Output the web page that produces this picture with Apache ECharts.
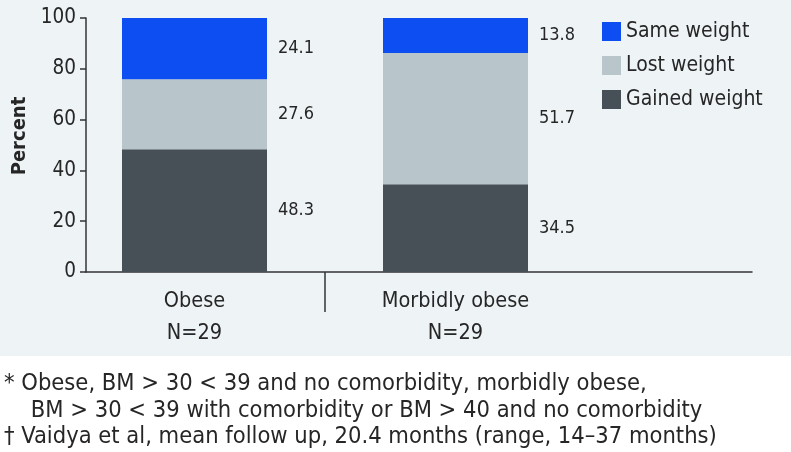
<!DOCTYPE html>
<html>
<head>
<meta charset="utf-8">
<script src="https://cdn.jsdelivr.net/npm/echarts@6/dist/echarts.min.js"></script>
<style>html,body{margin:0;padding:0;background:#fff}#c{width:791px;height:452px}</style>
</head>
<body>
<div id="c"></div>
<script>
const categories = ['Obese\nN=29', 'Morbidly obese\nN=29'];
const gained = [48.3, 34.5];
const lost = [27.6, 51.7];
const same = [24.1, 13.8];
const seriesNames = ['Gained weight', 'Lost weight', 'Same weight'];
const yTicks = [0, 20, 40, 60, 80, 100];
const footnotes = [
  '* Obese, BM > 30 < 39 and no comorbidity, morbidly obese,',
  '    BM > 30 < 39 with comorbidity or BM > 40 and no comorbidity',
  '† Vaidya et al, mean follow up, 20.4 months (range, 14–37 months)'
];

const FONT = "'DejaVu Sans Condensed', 'Liberation Sans Narrow', 'DejaVu Sans', sans-serif";
const TXT = '#262626';
const colors = ['#465056', '#b8c5ca', '#0c4ef2'];

const chart = echarts.init(document.getElementById('c'));
const lbl = {show: true, position: 'right', distance: 11, color: TXT, fontSize: 18, fontFamily: FONT,
  formatter: p => p.value.toFixed(1)};

const option = {
  backgroundColor: '#ffffff',
  animation: false,
  textStyle: {fontFamily: FONT},
  grid: [
    {left: 64, right: 205, top: 18, bottom: 180},
    {left: 86, right: 39, top: 18, bottom: 180}
  ],
  legend: {
    orient: 'vertical', left: 597, top: 16, itemWidth: 19, itemHeight: 19, itemGap: 13,
    icon: 'rect',
    data: ['Same weight', 'Lost weight', 'Gained weight'],
    textStyle: {fontSize: 21, lineHeight: 19, color: TXT, fontFamily: FONT}
  },
  xAxis: [
    {gridIndex: 0, type: 'category', data: categories,
      axisLine: {show: false}, axisTick: {show: false},
      axisLabel: {fontSize: 21.5, color: TXT, lineHeight: 32, margin: 13, fontFamily: FONT}},
    {gridIndex: 1, type: 'value', min: 0, max: 1,
      axisLine: {show: true, onZero: false, lineStyle: {color: '#333', width: 1.5}},
      axisTick: {show: false}, axisLabel: {show: false}, splitLine: {show: false}}
  ],
  yAxis: [
    {gridIndex: 0, type: 'value', min: 0, max: 100, show: false},
    {gridIndex: 1, type: 'value', min: 0, max: 100, interval: 20,
      name: 'Percent', nameLocation: 'middle', nameGap: 54,
      nameTextStyle: {fontSize: 20, fontWeight: 'bold', color: TXT, fontFamily: FONT, padding: [0, 0, 0, 18]},
      axisLine: {show: true, lineStyle: {color: '#333', width: 1.5}},
      axisTick: {show: true, length: 6, lineStyle: {color: '#333', width: 1.5}},
      axisLabel: {fontSize: 20.5, color: TXT, margin: 10, fontFamily: FONT,
        customValues: yTicks},
      splitLine: {show: false}}
  ],
  series: [
    {name: seriesNames[0], type: 'bar', stack: 'a', data: gained, barWidth: 145, itemStyle: {color: colors[0]}, label: lbl},
    {name: seriesNames[1], type: 'bar', stack: 'a', data: lost, barWidth: 145, itemStyle: {color: colors[1]}, label: lbl},
    {name: seriesNames[2], type: 'bar', stack: 'a', data: same, barWidth: 145, itemStyle: {color: colors[2]}, label: lbl}
  ],
  graphic: []
};
chart.setOption(option);

// background panel, divider and footnotes
const p0 = chart.convertToPixel({xAxisIndex: 0, yAxisIndex: 0}, [0, 0]);
const p1 = chart.convertToPixel({xAxisIndex: 0, yAxisIndex: 0}, [1, 0]);
const divX = (p0[0] + p1[0]) / 2;
const g = [
  {type: 'rect', z: -10, shape: {x: 0, y: 0, width: 791, height: 356}, style: {fill: '#eef3f5'}},
  {type: 'line', z: 10, shape: {x1: divX, y1: p0[1], x2: divX, y2: p0[1] + 40}, style: {stroke: '#333', lineWidth: 1.5}}
];
footnotes.forEach((t, i) => {
  g.push({type: 'text', z: 10, left: 4, top: 372 + i * 26.5,
    style: {text: t, fontSize: 23.5, fill: TXT, fontFamily: FONT}});
});
chart.setOption({graphic: g});
</script>
</body>
</html>
